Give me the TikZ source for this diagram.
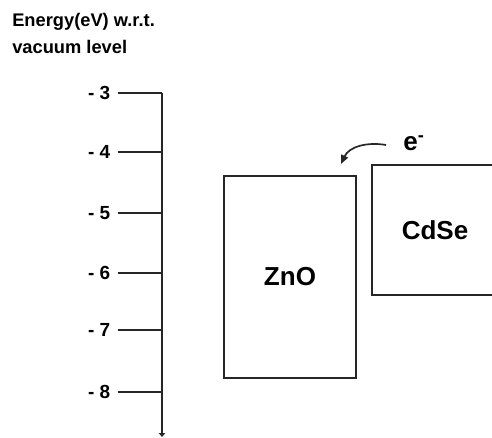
\documentclass[tikz,border=0pt]{standalone}
\usepackage{fontspec}
\setmainfont{Liberation Sans}
\usetikzlibrary{arrows.meta,positioning}
\tikzset{
  band/.style={draw=black!85,line width=1.4pt,inner sep=0pt,font=\fontsize{18.5}{22}\selectfont\bfseries},
  tlbl/.style={font=\fontsize{13.5}{16}\selectfont\bfseries,anchor=east,inner sep=1pt},
  tck/.style={draw=black!85,line width=1.1pt},
  axline/.style={draw=black!85,line width=1.6pt},
  hop/.style={-{Triangle[length=2.2mm,width=1.8mm]},line width=1.2pt,draw=black!85},
}
\begin{document}
\begin{tikzpicture}[x=0.025cm,y=0.025cm]
  \useasboundingbox (0,0) rectangle (492,-438);
  \clip (0,0) rectangle (492,-438);
  % axis title
  \node[anchor=north west,align=left,inner sep=0pt,font=\fontsize{13}{19}\selectfont\bfseries] (title) at (12,-13) {Energy(eV) w.r.t.\\vacuum level};
  % energy axis
  \coordinate (atop) at (162,-93);
  \coordinate (abot) at (162,-437);
  \draw[axline,-{Triangle[length=1mm,width=1.6mm]}] (atop) -- (abot);
  \foreach \v/\y in {3/93,4/152,5/213,6/273,7/330,8/392}{
    \node[tlbl] (t\v) at (112,-\y) {- \v};
    \coordinate (a\v) at (162,-\y);
    \draw[tck] ([xshift=4pt]t\v.east) -- (a\v);
  }
  % bands
  \node[band,minimum width=3.3cm,minimum height=5.05cm] (zno) at (290,-277) {ZnO};
  \node[band,minimum width=3.15cm,minimum height=3.25cm] (cdse) at (435,-230) {CdSe};
  % electron transfer
  \node[font=\fontsize{18.5}{22}\selectfont\bfseries,inner sep=0pt] (el) at (414,-143) {e\textsuperscript{-}};
  \coordinate (src) at (386,-145);
  \coordinate (dst) at (341,-164);
  \draw[hop] (src) to[out=170,in=65] (dst);
\end{tikzpicture}
\end{document}
